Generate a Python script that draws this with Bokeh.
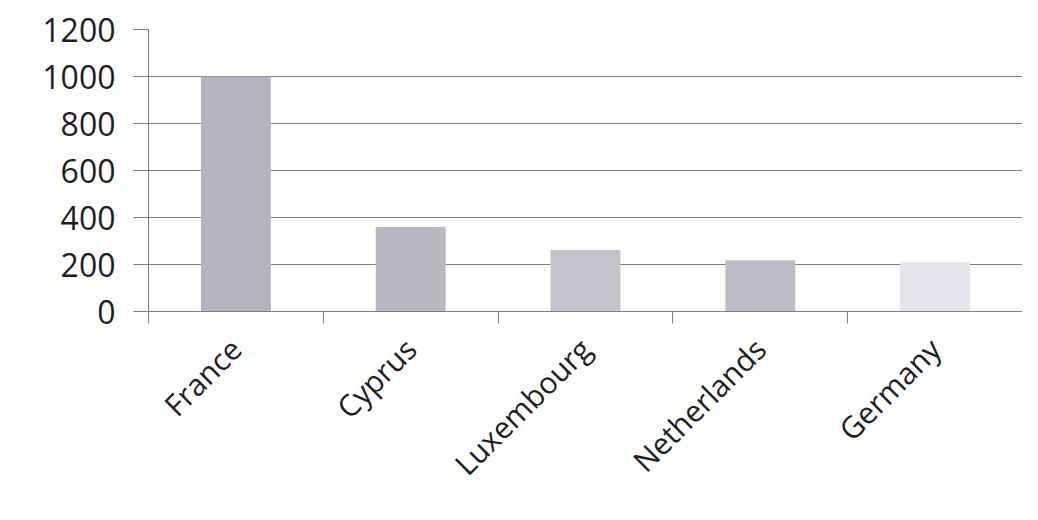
from bokeh.plotting import figure
from bokeh.models import Range1d, FixedTicker
from bokeh.embed import file_html
from bokeh.resources import INLINE

categories = ["France", "Cyprus", "Luxembourg", "Netherlands", "Germany"]
values = [1000, 360, 262, 218, 212]
bar_colors = ["#b4b4bc", "#b9b9c1", "#c3c3cb", "#bdbdc5", "#e6e6ea"]
y_ticks = [0, 200, 400, 600, 800, 1000, 1200]

xs = [i + 0.5 for i in range(len(categories))]
bounds = list(range(len(categories) + 1))

p = figure(width=1022, height=504, output_backend="svg", toolbar_location=None,
           x_range=Range1d(0, len(categories)), y_range=Range1d(0, 1200),
           min_border_left=148, min_border_right=0, min_border_top=29, min_border_bottom=193)
p.outline_line_color = None
p.background_fill_color = "white"

p.vbar(x=xs, top=values, width=0.4, fill_color=bar_colors, line_color=None)

p.xaxis.ticker = FixedTicker(ticks=xs, minor_ticks=bounds)
p.xaxis.major_label_overrides = {x: c for x, c in zip(xs, categories)}
p.xaxis.major_tick_out = 0
p.xaxis.major_tick_in = 0
p.xaxis.minor_tick_out = 12
p.xaxis.minor_tick_in = 0
p.xaxis.minor_tick_line_color = "#808080"
p.xaxis.axis_line_color = "#808080"
p.xaxis.major_label_orientation = 0.785398
p.xaxis.major_label_standoff = 20
p.xaxis.major_label_text_font = "Open Sans"
p.xaxis.major_label_text_font_size = "30px"
p.xaxis.major_label_text_color = "#1e1e1e"
p.xgrid.visible = False

p.yaxis.ticker = FixedTicker(ticks=y_ticks)
p.yaxis.minor_tick_line_color = None
p.yaxis.major_tick_out = 15
p.yaxis.major_tick_in = 0
p.yaxis.major_tick_line_color = "#808080"
p.yaxis.axis_line_color = "#808080"
p.yaxis.major_label_standoff = 18
p.yaxis.major_label_text_font = "Open Sans"
p.yaxis.major_label_text_font_size = "32px"
p.yaxis.major_label_text_color = "#1e1e1e"
p.ygrid.grid_line_color = "#808080"
p.ygrid.grid_line_width = 1

open("out.html", "w").write(file_html(p, INLINE))
